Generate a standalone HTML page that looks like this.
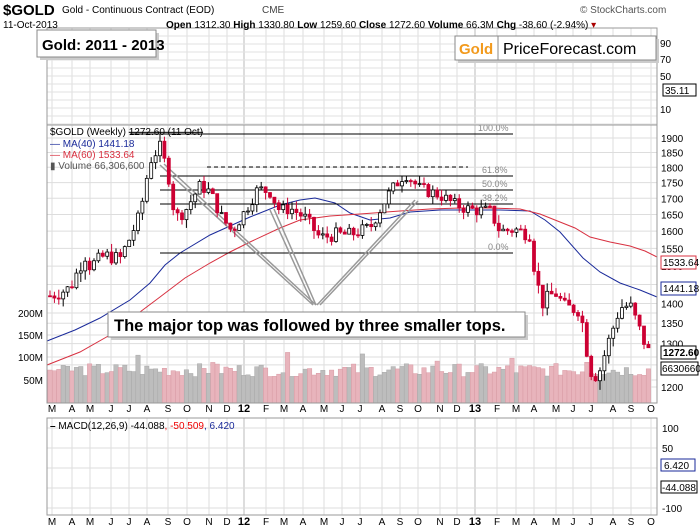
<!DOCTYPE html>
<html><head><meta charset="utf-8">
<style>
body{margin:0;background:#fff;width:700px;height:530px;overflow:hidden;font-family:"Liberation Sans",sans-serif}
svg{position:absolute;left:0;top:0}
</style></head><body>
<svg id="s" width="700" height="530" xmlns="http://www.w3.org/2000/svg" font-family="Liberation Sans, sans-serif"></svg>
<script>
var S=document.getElementById('s'),h='';
function L(x1,y1,x2,y2,c,w,extra){h+='<line x1="'+x1+'" y1="'+y1+'" x2="'+x2+'" y2="'+y2+'" stroke="'+c+'" stroke-width="'+(w||1)+'" '+(extra||'')+'/>';}
function R(x,y,w,hh,f,s,sw){h+='<rect x="'+x+'" y="'+y+'" width="'+w+'" height="'+hh+'" fill="'+f+'" stroke="'+(s||'none')+'" stroke-width="'+(sw||1)+'"/>';}
function T(x,y,t,sz,c,extra){h+='<text x="'+x+'" y="'+y+'" font-size="'+sz+'" fill="'+(c||'#000')+'" '+(extra||'')+'>'+t+'</text>';}
var X0=47,X1=657;
var months=[['M',52],['A',72],['M',90],['J',111],['J',129],['A',147],['S',168],['O',187],['N',209],['D',227],['12',244],['F',266],['M',284],['A',303],['M',324],['J',342],['J',360],['A',382],['S',400],['O',418],['N',440],['D',457],['13',475],['F',497],['M',516],['A',534],['M',556],['J',573],['J',591],['A',613],['S',631],['O',651]];
var P=[[28,125],[125,403],[418,515]];
P.forEach(function(p){R(X0,p[0],X1-X0,p[1]-p[0],'#fff');});
P.forEach(function(p){months.forEach(function(m){var c=(m[0]=='12'||m[0]=='13')?'#bbb':'#ddd';L(m[1],p[0],m[1],p[1],c,1);});});
for(var y=36;y<125;y+=8)L(X0,y,X1,y,'#e2e2e2');
function py(p){return 138+(Math.log(1900)-Math.log(p))*541.9;}
for(var p=1200;p<=1900;p+=50)L(X0,py(p),X1,py(p),'#ddd');
[313,335,357,380].forEach(function(y){L(X0,y,X1,y,'#ddd');});
[428,448,468,488,508].forEach(function(y){L(X0,y,X1,y,'#ddd');});
var kp=[[50,1420],[70,1440],[85,1530],[90,1500],[105,1530],[120,1520],[130,1580],[140,1650],[150,1820],[160,1870],[168,1780],[175,1640],[185,1660],[200,1740],[210,1720],[222,1640],[232,1600],[245,1660],[258,1730],[270,1720],[280,1660],[290,1670],[305,1640],[320,1580],[335,1590],[350,1590],[370,1610],[390,1720],[405,1780],[420,1730],[440,1710],[455,1680],[470,1665],[490,1660],[500,1600],[515,1605],[530,1590],[535,1480],[542,1400],[555,1430],[565,1390],[580,1385],[590,1240],[598,1225],[608,1300],[620,1390],[630,1395],[640,1330],[650,1272]];
function interp(x){for(var i=0;i<kp.length-1;i++){if(x<=kp[i+1][0]){var a=kp[i],b=kp[i+1],t=(x-a[0])/(b[0]-a[0]);return a[1]+t*(b[1]-a[1]);}}return kp[kp.length-1][1];}
var seed=7;function rnd(){seed=(seed*9301+49297)%233280;return seed/233280;}
var prev=1420,bars=[];
for(var x=50;x<=652;x+=4.4){var c=interp(x)+(rnd()-0.5)*40;var o=prev;var hi=Math.max(o,c)+rnd()*25,lo=Math.min(o,c)-rnd()*25;bars.push([x,o,hi,lo,c]);prev=c;}
bars.forEach(function(b,i){var v=60+rnd()*30;if(i%17==3)v+=25;var down=b[4]<b[1];var hh=v*0.44;R(b[0]-2.2,403-hh,4.4,hh,down?'#e8b4bc':'#bdbdbd',down?'#d89aa4':'#a8a8a8',0.5);});
function poly(pts,c){h+='<polyline fill="none" stroke="'+c+'" stroke-width="1" points="'+pts.map(function(p){return p.join(',')}).join(' ')+'"/>';}
poly([[47,341],[75,330],[100,318],[130,300],[150,283],[165,265],[180,253],[210,235],[250,217],[280,205],[300,200],[315,198],[335,203],[350,213],[370,220],[390,218],[410,212],[440,210],[470,210],[500,210],[530,211],[545,220],[560,232],[583,258],[600,272],[620,283],[640,290],[657,297]],'#1a2a9a');
poly([[47,365],[80,352],[110,335],[140,312],[160,297],[185,278],[210,263],[230,252],[250,242],[280,228],[300,220],[330,216],[360,214],[400,211],[430,209],[460,208],[490,208],[520,209],[540,214],[560,222],[575,228],[590,237],[610,242],[630,246],[645,251],[657,257]],'#d83040');
L(130,134,513,134,'#000');T(478,131,'100.0%',9,'#888');
L(207,167,468,167,'#000',1,'stroke-dasharray="4,3"');
L(160,176,513,176,'#000');T(482,173,'61.8%',9,'#888');
L(160,190,513,190,'#000');T(482,187,'50.0%',9,'#888');
L(160,204,513,204,'#000');T(482,201,'38.2%',9,'#888');
L(160,253,513,253,'#000');T(488,250,'0.0%',9,'#888');
[[160,165,313,305],[164,164,316,305],[270,210,313,305],[274,209,316,305],[415,200,317,305],[418,201,320,305]].forEach(function(s){L(s[0],s[1],s[2],s[3],'#999',1.5);});
bars.forEach(function(b){var x=b[0],o=b[1],hi=b[2],lo=b[3],c=b[4];var down=c<o;var col=down?'#cc0033':'#000';L(x,py(hi),x,py(lo),col,1);var t=py(Math.max(o,c)),bt=py(Math.min(o,c));R(x-1.5,t,3,Math.max(1,bt-t),down?'#cc0033':'#fff',col,0.8);});
R(111,315,417,25,'#ccc');R(108,312,417,25,'#fff','#888',1);
T(114,331,'The major top was followed by three smaller tops.',16.5,'#000','font-weight="bold"');
P.forEach(function(p){R(X0,p[0],X1-X0,p[1]-p[0],'none','#999',1);});
R(40,33,119,27,'#ccc');R(37,30,119,27,'#fff','#888');T(42,50,'Gold: 2011 - 2013',15,'#000','font-weight="bold"');
R(458,39,201,24,'#ccc');R(455,36,201,24,'#fff','#888');L(498,36,498,60,'#888');
T(459,54,'Gold',15,'#f29a1d','font-weight="bold"');T(503,54,'PriceForecast.com',16,'#000');
T(3,15,'$GOLD',15,'#000','font-weight="bold"');T(62,13,'Gold - Continuous Contract (EOD)',10,'#000');T(262,13,'CME',10,'#444');
T(580,13,'© StockCharts.com',10,'#555');
T(3,28,'11-Oct-2013',10,'#000');
T(166,28,'<tspan font-weight="bold">Open</tspan> 1312.30 <tspan font-weight="bold">High</tspan> 1330.80 <tspan font-weight="bold">Low</tspan> 1259.60 <tspan font-weight="bold">Close</tspan> 1272.60 <tspan font-weight="bold">Volume</tspan> 66.3M <tspan font-weight="bold">Chg</tspan> -38.60 (-2.94%) <tspan fill="#a00">▾</tspan>',10,'#000');
[['90',47],['70',63],['50',80],['10',113]].forEach(function(l){T(660,l[1],l[0],10,'#000');});
R(663,84,33,12,'#fff','#000');T(665,94,'35.11',10,'#000');
T(50,135,'$GOLD (Weekly) <tspan text-decoration="line-through">1272.60 (11 Oct)</tspan>',10,'#000');
T(50,147,'— MA(40) 1441.18',10,'#1a2a9a');T(50,158,'— MA(60) 1533.64',10,'#d83040');T(50,169,'▮ Volume 66,306,600',10,'#555');
[1900,1850,1800,1750,1700,1650,1600,1550,1500,1400,1350,1300,1250,1200].forEach(function(p){T(661,py(p)+4,p,10,'#000');});
R(661,256,35,13,'#fff','#d83040');T(663,266,'1533.64',10,'#000');
R(661,282,35,13,'#fff','#1a2a9a');T(663,292,'1441.18',10,'#000');
R(661,346,35,13,'#fff','#000');T(663,356,'1272.60',10,'#000','font-weight="bold"');
R(661,362,37,13,'#fff','#000');T(662,372,'66306600',10,'#000');
[['200M',317],['150M',339],['100M',361],['50M',384]].forEach(function(l){T(43,l[1],l[0],10,'#000','text-anchor="end"');});
[412,525].forEach(function(y){months.forEach(function(m){var b=(m[0]=='12'||m[0]=='13');T(m[1],y,m[0],b?11:10,'#000','text-anchor="middle"'+(b?' font-weight="bold"':''));});});
T(50,429,'<tspan font-weight="bold">–</tspan> MACD(12,26,9) -44.088<tspan fill="#e00">, -50.509</tspan><tspan fill="#1a2a9a">, 6.420</tspan>',10,'#000');
T(662,432,'100',10,'#000');T(662,452,'50',10,'#000');T(662,512,'-100',10,'#000');
R(661,459,34,12,'#fff','#1a2a9a');T(664,469,'6.420',10,'#000');
R(661,481,36,12,'#fff','#000');T(662,491,'-44.088',10,'#000');
S.innerHTML=h;
</script>
</body></html>
